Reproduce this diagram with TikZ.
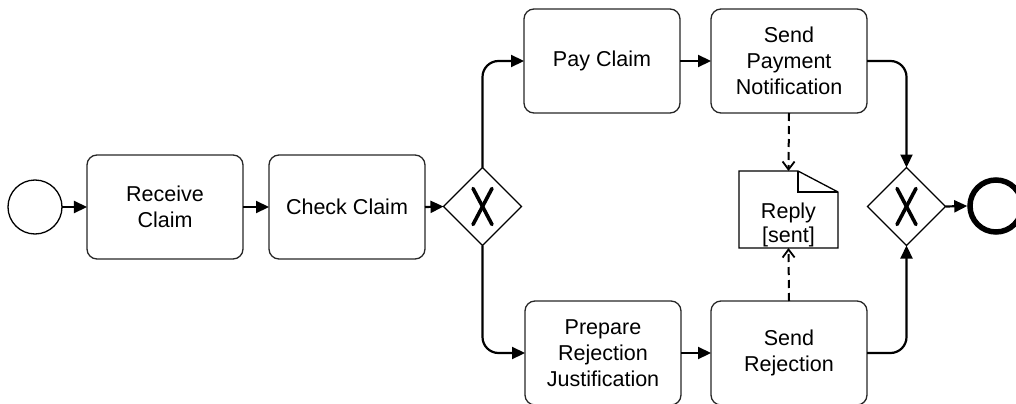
\documentclass[tikz,border=0pt]{standalone}
\usepackage{fontspec}
\setmainfont{Liberation Sans}
\usetikzlibrary{shapes.geometric,arrows.meta}

\tikzset{
  x=1bp, y=1bp,
  task/.style={draw=black!85, line width=1.3bp, rounded corners=10bp,
    minimum width=156bp, minimum height=104bp, inner sep=0pt, outer sep=0pt,
    align=center, font=\fontsize{21.6}{26}\selectfont},
  gateway/.style={draw=black, line width=1.1bp, diamond, aspect=1,
    minimum width=78bp, minimum height=78bp, inner sep=0pt, outer sep=0pt},
  startev/.style={draw=black, line width=1.3bp, circle, minimum size=54bp,
    inner sep=0pt, outer sep=0pt},
  endev/.style={draw=black, line width=5.5bp, circle, minimum size=52bp,
    inner sep=0pt, outer sep=2.75bp},
  dataobj/.style={minimum width=99bp, minimum height=77bp, inner sep=0pt, outer sep=0pt},
  flow/.style={line width=2.2bp, rounded corners=16bp,
    -{Triangle[length=13bp,width=12bp]}},
  assoc/.style={line width=2bp, dash pattern=on 8bp off 5bp,
    -{Straight Barb[length=8bp,width=12bp,line width=1.8bp]}},
  xmark/.style={line width=3.6bp, line cap=round},
  textfont/.style={font=\fontsize{21.6}{25}\selectfont, align=center}
}

\begin{document}
\begin{tikzpicture}
  \useasboundingbox (0,0) rectangle (1016,403);

  % events, tasks and gateways
  \node[startev] (start) at (35,196) {};
  \node[task] (receive) at (165,196) {Receive\\Claim};
  \node[task] (check) at (347,196) {Check Claim};
  \node[gateway] (gw1) at (482.5,196.5) {};
  \node[task] (pay) at (602,342) {Pay Claim};
  \node[task] (notify) at (789,342) {Send\\Payment\\Notification};
  \node[task] (prep) at (603,50) {Prepare\\Rejection\\Justification};
  \node[task] (sendrej) at (789,50) {Send\\Rejection};
  \node[gateway] (gw2) at (906.5,196.5) {};
  \node[endev] (end) at (996,197) {};

  % exclusive gateway markers
  \foreach \g in {gw1,gw2}{
    \draw[xmark] ([shift={(-9.5,-18)}]\g.center) -- ([shift={(9.5,18)}]\g.center);
    \draw[xmark] ([shift={(9.5,-18)}]\g.center) -- ([shift={(-9.5,18)}]\g.center);
  }

  % data object with folded corner
  \node[dataobj] (reply) at (788.5,193.5) {};
  \draw[line width=1.3bp, line join=miter]
    (reply.south west) -- (reply.north west) -- ([xshift=-40bp]reply.north east)
    -- ([yshift=-21bp]reply.north east) -- (reply.south east) -- cycle;
  \draw[line width=1.3bp]
    ([xshift=-40bp]reply.north east) -- ([xshift=-40bp,yshift=-21bp]reply.north east)
    -- ([yshift=-21bp]reply.north east);
  \node[textfont] (replytext) at (788.5,178.5) {Reply\\[-1pt][sent]};

  % sequence flows
  \draw[flow] (start.east) -- (receive.west);
  \draw[flow] (receive.east) -- (check.west);
  \draw[flow] (check.east) -- (gw1.west);
  \draw[flow] (gw1.north) |- (pay.west);
  \draw[flow] (gw1.south) |- (prep.west);
  \draw[flow] (pay.east) -- (notify.west);
  \draw[flow] (prep.east) -- (sendrej.west);
  \draw[flow] (notify.east) -| (gw2.north);
  \draw[flow] (sendrej.east) -| (gw2.south);
  \draw[flow] (gw2.east) -- (end.west);

  % data associations
  \draw[assoc] (notify.south) -- (reply.north);
  \draw[assoc] (sendrej.north) -- (reply.south);
\end{tikzpicture}
\end{document}
